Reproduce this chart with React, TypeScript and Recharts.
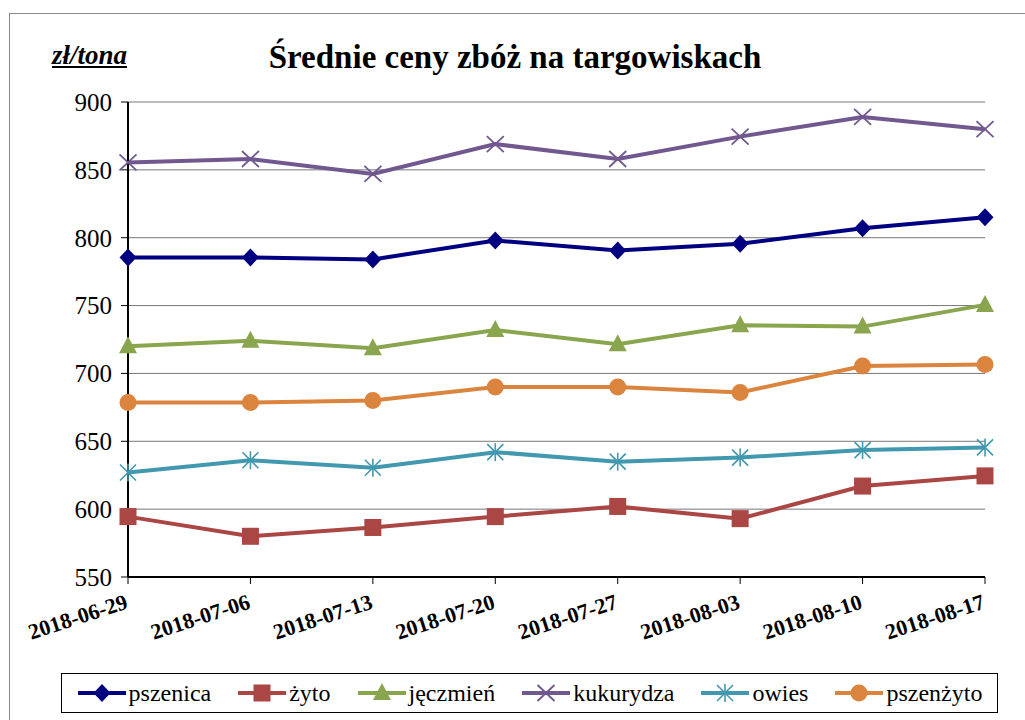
import React from 'react'
import { LineChart, Line, XAxis, YAxis, CartesianGrid } from 'recharts'

const dates = ['2018-06-29', '2018-07-06', '2018-07-13', '2018-07-20', '2018-07-27', '2018-08-03', '2018-08-10', '2018-08-17']
const pszenica = [785.5, 785.5, 784, 798, 790.5, 795.5, 807, 815]
const zyto = [594.5, 580, 586.5, 594.5, 602, 593, 617, 624.5]
const jeczmien = [720, 724, 718.5, 732, 721.5, 735.5, 734.5, 750.5]
const kukurydza = [855.5, 858, 847, 869, 858, 874.5, 889, 880]
const owies = [627, 636, 630.5, 642, 635, 638, 643.5, 645.5]
const pszenzyto = [678.5, 678.5, 680, 690, 690, 686, 705.5, 706.5]
const yTicks = [550, 600, 650, 700, 750, 800, 850, 900]

type Shape = 'diamond' | 'square' | 'triangle' | 'x' | 'star' | 'circle'

const series: { key: string; name: string; color: string; shape: Shape; values: number[] }[] = [
  { key: 'pszenica', name: 'pszenica', color: '#000080', shape: 'diamond', values: pszenica },
  { key: 'zyto', name: 'żyto', color: '#AA4643', shape: 'square', values: zyto },
  { key: 'jeczmien', name: 'jęczmień', color: '#89A54E', shape: 'triangle', values: jeczmien },
  { key: 'kukurydza', name: 'kukurydza', color: '#71588F', shape: 'x', values: kukurydza },
  { key: 'owies', name: 'owies', color: '#4198AF', shape: 'star', values: owies },
  { key: 'pszenzyto', name: 'pszenżyto', color: '#DB843D', shape: 'circle', values: pszenzyto },
]

const data = dates.map((d, i) => {
  const row: Record<string, string | number> = { date: d }
  series.forEach((s) => (row[s.key] = s.values[i]))
  return row
})

const FONT = '"Liberation Serif", serif'

// excel-style markers
function Marker({ cx, cy, shape, color }: { cx: number; cy: number; shape: Shape; color: string }) {
  if (cx == null || cy == null) return null
  switch (shape) {
    case 'diamond':
      return <polygon points={`${cx},${cy - 9} ${cx + 8.5},${cy} ${cx},${cy + 9} ${cx - 8.5},${cy}`} fill={color} />
    case 'square':
      return <rect x={cx - 8.5} y={cy - 8.5} width={17} height={17} fill={color} />
    case 'triangle':
      return <polygon points={`${cx},${cy - 10} ${cx + 9},${cy + 7} ${cx - 9},${cy + 7}`} fill={color} />
    case 'x':
      return (
        <g stroke={color} strokeWidth={1.8}>
          <line x1={cx - 8.5} y1={cy - 8} x2={cx + 8.5} y2={cy + 8} />
          <line x1={cx - 8.5} y1={cy + 8} x2={cx + 8.5} y2={cy - 8} />
        </g>
      )
    case 'star':
      return (
        <g stroke={color} strokeWidth={1.6}>
          <line x1={cx - 8} y1={cy - 8} x2={cx + 8} y2={cy + 8} />
          <line x1={cx - 8} y1={cy + 8} x2={cx + 8} y2={cy - 8} />
          <line x1={cx} y1={cy - 9} x2={cx} y2={cy + 9} />
        </g>
      )
    default:
      return <circle cx={cx} cy={cy} r={8.5} fill={color} />
  }
}

function XTick({ x, y, payload }: any) {
  return (
    <g transform={`translate(${x + 1},${y + 22}) rotate(-18)`}>
      <text x={0} y={0} textAnchor="end" fontFamily={FONT} fontWeight="bold" fontSize={22} fill="#000">
        {payload.value}
      </text>
    </g>
  )
}

export default function App() {
  return (
    <div
      style={{
        position: 'absolute',
        left: 9,
        top: 13,
        width: 1015,
        height: 706,
        borderLeft: '1px solid #888',
        borderTop: '1px solid #888',
        background: '#fff',
        fontFamily: FONT,
      }}
    >
      <div style={{ position: 'absolute', left: 42, top: 26, fontSize: 27, fontWeight: 'bold', fontStyle: 'italic', textDecoration: 'underline' }}>
        zł/tona
      </div>
      <div style={{ position: 'absolute', left: 0, width: 1010, top: 25, textAlign: 'center', fontSize: 33, fontWeight: 'bold' }}>
        Średnie ceny zbóż na targowiskach
      </div>
      <LineChart width={1015} height={706} data={data} margin={{ top: 88, right: 40, left: 58, bottom: 83 }}>
        <CartesianGrid vertical={false} stroke="#777" strokeWidth={1} />
        <XAxis
          dataKey="date"
          interval={0}
          height={60}
          tick={<XTick />}
          tickSize={7}
          axisLine={{ stroke: '#000', strokeWidth: 2 }}
          tickLine={{ stroke: '#000' }}
        />
        <XAxis xAxisId="top" dataKey="date" orientation="top" height={0} tick={false} tickLine={false} axisLine={{ stroke: '#000', strokeWidth: 2 }} />
        <YAxis
          domain={[550, 900]}
          ticks={yTicks}
          interval={0}
          width={60}
          tickSize={7}
          tickMargin={9}
          tick={{ fontFamily: FONT, fontSize: 25, fill: '#000' }}
          axisLine={{ stroke: '#000', strokeWidth: 2 }}
          tickLine={{ stroke: '#000' }}
        />
        <YAxis yAxisId="right" orientation="right" domain={[550, 900]} width={0} tick={false} tickLine={false} axisLine={{ stroke: '#000', strokeWidth: 2 }} />
        {series.map((s) => (
          <Line
            key={s.key}
            dataKey={s.key}
            name={s.name}
            stroke={s.color}
            strokeWidth={4}
            isAnimationActive={false}
            dot={(p: any) => <Marker key={`${s.key}-${p.index}`} cx={p.cx} cy={p.cy} shape={s.shape} color={s.color} />}
            activeDot={false}
          />
        ))}
      </LineChart>
      <div
        style={{
          position: 'absolute',
          left: 51,
          top: 659,
          width: 935,
          height: 38,
          border: '1px solid #000',
          display: 'flex',
          alignItems: 'center',
          justifyContent: 'center',
          gap: 26,
          fontSize: 24,
        }}
      >
        {series.map((s) => (
          <div key={s.key} style={{ display: 'flex', alignItems: 'center' }}>
            <svg width={50} height={20} style={{ marginRight: 2 }}>
              <line x1={1} y1={10} x2={49} y2={10} stroke={s.color} strokeWidth={4} />
              <Marker cx={25} cy={10} shape={s.shape} color={s.color} />
            </svg>
            <span>{s.name}</span>
          </div>
        ))}
      </div>
    </div>
  )
}
